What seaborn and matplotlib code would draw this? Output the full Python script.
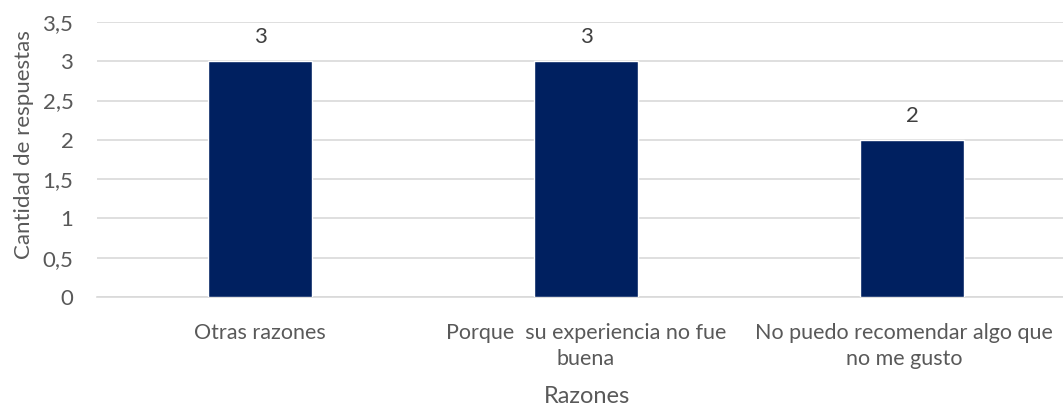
import matplotlib
matplotlib.use("Agg")
import matplotlib.pyplot as plt
import matplotlib.transforms as mtransforms
import seaborn as sns
import pandas as pd

categories = ["Otras razones",
              "Porque  su experiencia no fue\nbuena",
              "No puedo recomendar algo que\nno me gusto"]
values = [3, 3, 2]

sns.set_theme(style="white")
plt.rcParams['font.family'] = ['Lato', 'DejaVu Sans']
txt = "#595959"

df = pd.DataFrame({"Razones": categories, "Cantidad": values})
fig = plt.figure(figsize=(10.63, 4.07), dpi=100)
ax = fig.add_axes([97/1063, 110/407, 978/1063, 275/407])
sns.barplot(data=df, x="Razones", y="Cantidad", color="#002060", width=0.318,
            saturation=1, ax=ax, zorder=3)
ax.set_ylim(0, 3.5)
ax.set_xlim(-0.5, 2.5)
ticks = [0, 0.5, 1, 1.5, 2, 2.5, 3, 3.5]
ax.set_yticks(ticks)
ax.set_yticklabels([f"{t:g}".replace(".", ",") for t in ticks], color=txt, fontsize=16)
ax.tick_params(axis="x", colors=txt, labelsize=15.5, length=0, pad=19)
ax.tick_params(axis="y", length=0, pad=17)
xl = ax.get_xticklabels()
for lab in xl:
    lab.set_color(txt)
    lab.set_linespacing(1.35)
    lab.set_multialignment("center")
xl[-1].set_transform(xl[-1].get_transform() +
                     mtransforms.ScaledTranslation(-8/100, 0, fig.dpi_scale_trans))
ax.yaxis.grid(True, color="#d9d9d9", linewidth=1.2, zorder=0)
for s in ["top", "right", "left"]:
    ax.spines[s].set_visible(False)
ax.spines["bottom"].set_color("#d9d9d9")
ax.spines["bottom"].set_linewidth(1.2)
ax.bar_label(ax.containers[0], labels=[f"{v}" for v in values], padding=10,
             color="#404040", fontsize=16)
ax.set_xlabel("Razones", color=txt, fontsize=17)
ax.xaxis.label.set_va("baseline")
ax.xaxis.set_label_coords(0.501, (4 - 110) / 275)
ax.set_ylabel("Cantidad de respuestas", color=txt, fontsize=16)
ax.yaxis.label.set_va("center")
ax.yaxis.set_label_coords((24 - 97) / 978, (407 - 145 - 110) / 275)
fig.savefig("out.png", dpi=100)
